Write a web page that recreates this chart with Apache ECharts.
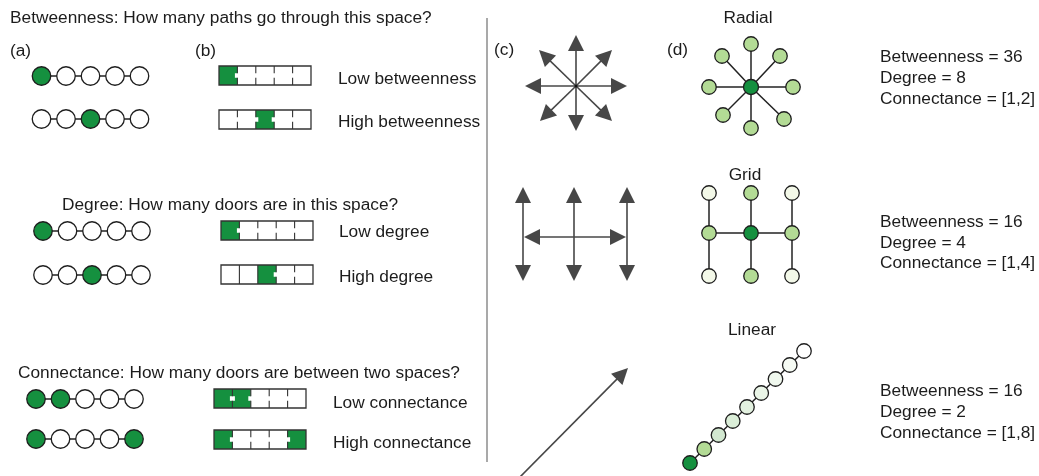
<!DOCTYPE html>
<html>
<head>
<meta charset="utf-8">
<script src="https://cdn.jsdelivr.net/npm/echarts@6/dist/echarts.min.js"></script>
<style>
html, body { margin: 0; background: #fff; }
#main { width: 1039px; height: 476px; }
</style>
</head>
<body>
<div id="main"></div>
<script>
/*--- left side: room chains (a) and floor plans (b) ---*/
var rowY = [76, 119, 231, 275, 399, 439];
var rowX0 = [41.5, 41.5, 43, 43, 36, 36];
var rowStep = 24.5;
var rowGreen = [[0], [2], [0], [2], [0, 1], [0, 4]];
var planX0 = [219, 219, 221, 221, 214, 214];
var planY0 = [66, 110, 221, 265, 389, 430];
// wall between neighbouring rooms: 1 = door, 0 = solid
var planDoors = [[1, 1, 1, 1], [1, 1, 1, 1], [1, 1, 1, 1], [0, 0, 1, 1], [1, 1, 1, 1], [1, 1, 1, 1]];

/*--- (c) movement arrows ---*/
var radialArrowCenter = [576, 86];
var radialArrowTips = [[576, 35], [612, 50], [627, 86], [612, 121], [576, 131], [540, 121], [525, 86], [539, 50]];
var gridArrowCols = [523, 574, 627];
var gridArrowY = [187, 237, 281];
var linearArrow = [[519, 478], [628, 368]];

/*--- (d) network layouts ---*/
var radialCenter = [751, 87];
var radialNodes = [[751, 44], [780, 56], [793, 87], [784, 119], [751, 128], [723, 115], [709, 87], [722, 56]];
var gridCols = [709, 751, 792];
var gridRows = [193, 233, 276];
var gridShade = [[2, 1, 2], [1, 0, 1], [2, 1, 2]];
var linearStart = [690, 463];
var linearStep = [14.25, -14];
var linearColors = ['#15903f', '#b3db95', '#d2e8d0', '#dbeed8', '#e3f1e0', '#eaf5e7', '#f0f8ee', '#f6fbf4', '#ffffff'];

var shades = ['#15903f', '#b3db95', '#f3f8e8'];

/*--- texts: x, y, text, align ---*/
var labels = [
	[10, 18, 'Betweenness: How many paths go through this space?', 'left'],
	[10, 51, '(a)', 'left'],
	[195, 51, '(b)', 'left'],
	[338, 79, 'Low betweenness', 'left'],
	[338, 122, 'High betweenness', 'left'],
	[62, 205, 'Degree: How many doors are in this space?', 'left'],
	[339, 232, 'Low degree', 'left'],
	[339, 277, 'High degree', 'left'],
	[18, 373, 'Connectance: How many doors are between two spaces?', 'left'],
	[333, 403, 'Low connectance', 'left'],
	[333, 443, 'High connectance', 'left'],
	[494, 50, '(c)', 'left'],
	[667, 50, '(d)', 'left'],
	[748, 18, 'Radial', 'center'],
	[745, 175, 'Grid', 'center'],
	[752, 330, 'Linear', 'center'],
	[880, 57, 'Betweenness = 36', 'left'],
	[880, 78, 'Degree = 8', 'left'],
	[880, 99, 'Connectance = [1,2]', 'left'],
	[880, 222, 'Betweenness = 16', 'left'],
	[880, 243, 'Degree = 4', 'left'],
	[880, 263, 'Connectance = [1,4]', 'left'],
	[880, 391, 'Betweenness = 16', 'left'],
	[880, 412, 'Degree = 2', 'left'],
	[880, 433, 'Connectance = [1,8]', 'left']
];

var arrowHead = [18, 16];

var myChart = echarts.init(document.getElementById('main'));

// nodes + edges
var nodes = [];
var edges = [];
for (var r = 0; r < rowY.length; r++) {
	var last = rowX0[r] + rowStep * 4;
	edges.push({ coords: [[rowX0[r], rowY[r]], [last, rowY[r]]] });
	for (var k = 0; k < 5; k++) {
		nodes.push({
			value: [rowX0[r] + rowStep * k, rowY[r]],
			symbolSize: 18.5,
			itemStyle: { color: rowGreen[r].indexOf(k) >= 0 ? shades[0] : '#ffffff' }
		});
	}
}
radialNodes.forEach(function(p) {
	edges.push({ coords: [radialCenter, p] });
	nodes.push({ value: p, symbolSize: 14.5, itemStyle: { color: shades[1] } });
});
nodes.push({ value: radialCenter, symbolSize: 15, itemStyle: { color: shades[0] } });
gridCols.forEach(function(x) {
	edges.push({ coords: [[x, gridRows[0]], [x, gridRows[2]]] });
});
edges.push({ coords: [[gridCols[0], gridRows[1]], [gridCols[2], gridRows[1]]] });
for (var i = 0; i < 3; i++) {
	for (var j = 0; j < 3; j++) {
		nodes.push({ value: [gridCols[j], gridRows[i]], symbolSize: 14.5, itemStyle: { color: shades[gridShade[i][j]] } });
	}
}
var linEnd = [linearStart[0] + linearStep[0] * 8, linearStart[1] + linearStep[1] * 8];
edges.push({ coords: [linearStart, linEnd] });
linearColors.forEach(function(c, n) {
	nodes.push({
		value: [linearStart[0] + linearStep[0] * n, linearStart[1] + linearStep[1] * n],
		symbolSize: 14.5,
		itemStyle: { color: c }
	});
});
// small hub dot of the radial arrows
nodes.push({ value: radialArrowCenter, symbolSize: 3, itemStyle: { color: '#111', borderWidth: 0 } });

// arrows: pull end back so the triangle tip lands on the given tip
function arrow(from, tip) {
	var dx = tip[0] - from[0], dy = tip[1] - from[1];
	var len = Math.sqrt(dx * dx + dy * dy);
	return { coords: [from, [tip[0] - dx / len * arrowHead[1] / 2, tip[1] - dy / len * arrowHead[1] / 2]] };
}
var arrows = [];
radialArrowTips.forEach(function(t) { arrows.push(arrow(radialArrowCenter, t)); });
gridArrowCols.forEach(function(x) {
	arrows.push(arrow([x, gridArrowY[1]], [x, gridArrowY[0]]));
	arrows.push(arrow([x, gridArrowY[1]], [x, gridArrowY[2]]));
});
arrows.push(arrow([gridArrowCols[1], gridArrowY[1]], [gridArrowCols[0] + 1, gridArrowY[1]]));
arrows.push(arrow([gridArrowCols[1], gridArrowY[1]], [gridArrowCols[2] - 1, gridArrowY[1]]));
arrows.push(arrow(linearArrow[0], linearArrow[1]));

option = {
	animation: false,
	grid: { left: 0, right: 0, top: 0, bottom: 0 },
	xAxis: { type: 'value', min: 0, max: 1039, show: false },
	yAxis: { type: 'value', min: 0, max: 476, inverse: true, show: false },
	series: [{
		name: 'separator',
		type: 'lines',
		coordinateSystem: 'cartesian2d',
		lineStyle: { color: '#8c8c8c', width: 1.5, opacity: 1 },
		data: [{ coords: [[487, 18], [487, 462]] }]
	}, {
		name: 'edges',
		type: 'lines',
		coordinateSystem: 'cartesian2d',
		lineStyle: { color: '#222222', width: 1.5, opacity: 1 },
		data: edges
	}, {
		name: 'arrows',
		type: 'lines',
		coordinateSystem: 'cartesian2d',
		symbol: ['none', 'triangle'],
		symbolSize: arrowHead,
		lineStyle: { color: '#474747', width: 1.6, opacity: 1 },
		data: arrows
	}, {
		name: 'nodes',
		type: 'scatter',
		z: 3,
		itemStyle: { borderColor: '#1e1e1e', borderWidth: 1.3, opacity: 1 },
		data: nodes
	}, {
		name: 'plans',
		type: 'custom',
		z: 3,
		data: rowY.map(function(y, idx) { return [idx]; }),
		renderItem: function(params, api) {
			var r = api.value(0);
			var p0 = api.coord([planX0[r], planY0[r]]);
			var p1 = api.coord([planX0[r] + 92, planY0[r] + 19]);
			var w = (p1[0] - p0[0]) / 5, h = p1[1] - p0[1];
			var kids = [];
			for (var k = 0; k < 5; k++) {
				if (rowGreen[r].indexOf(k) >= 0) {
					kids.push({ type: 'rect', shape: { x: p0[0] + w * k, y: p0[1], width: w, height: h }, style: { fill: shades[0] } });
				}
			}
			for (var d = 1; d < 5; d++) {
				var x = p0[0] + w * d;
				if (planDoors[r][d - 1]) {
					kids.push({ type: 'rect', shape: { x: x - 2.5, y: p0[1] + h * 0.38, width: 5, height: h * 0.24 }, style: { fill: '#ffffff' } });
					kids.push({ type: 'line', shape: { x1: x, y1: p0[1], x2: x, y2: p0[1] + h * 0.38 }, style: { stroke: '#333', lineWidth: 1.1 } });
					kids.push({ type: 'line', shape: { x1: x, y1: p0[1] + h * 0.62, x2: x, y2: p1[1] }, style: { stroke: '#333', lineWidth: 1.1 } });
				} else {
					kids.push({ type: 'line', shape: { x1: x, y1: p0[1], x2: x, y2: p1[1] }, style: { stroke: '#333', lineWidth: 1.1 } });
				}
			}
			kids.push({ type: 'rect', shape: { x: p0[0], y: p0[1], width: p1[0] - p0[0], height: h }, style: { fill: 'none', stroke: '#333', lineWidth: 1.3 } });
			return { type: 'group', children: kids };
		}
	}, {
		name: 'texts',
		type: 'custom',
		z: 4,
		data: labels.map(function(l, idx) { return [idx]; }),
		renderItem: function(params, api) {
			var l = labels[api.value(0)];
			var p = api.coord([l[0], l[1]]);
			return {
				type: 'text',
				x: p[0],
				y: p[1],
				style: {
					text: l[2],
					fill: '#1c1c1c',
					font: '17.3px "Liberation Sans", Arial, sans-serif',
					align: l[3],
					verticalAlign: 'middle'
				}
			};
		}
	}]
};
myChart.setOption(option);
</script>
</body>
</html>
